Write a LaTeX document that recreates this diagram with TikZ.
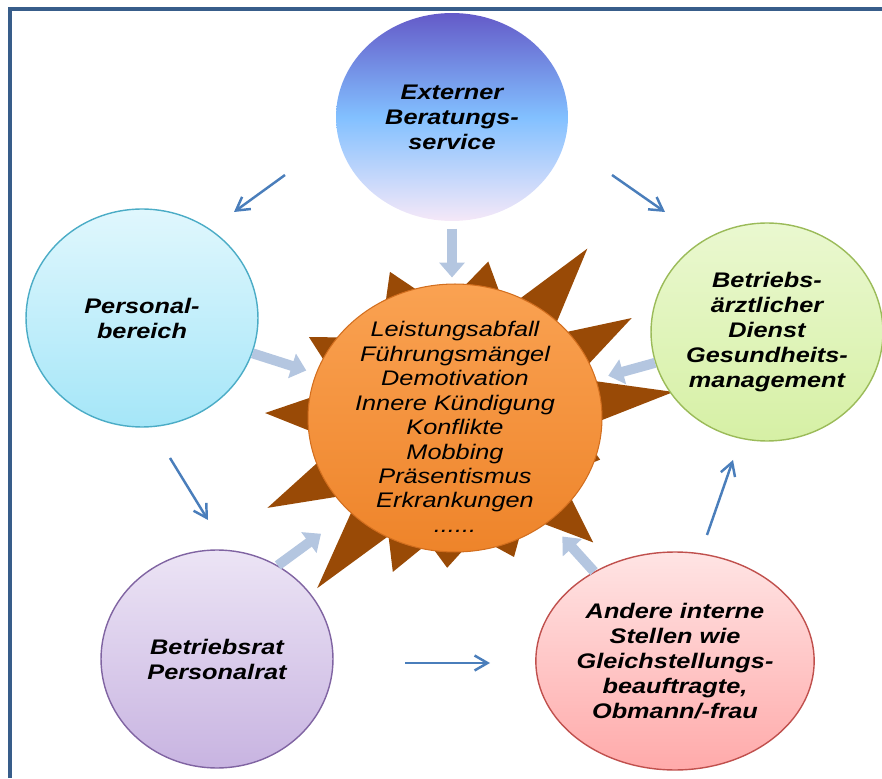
\documentclass[tikz,border=0pt]{standalone}
\usepackage{fontspec}
\setmainfont{Liberation Sans}
\newfontfamily\boxfont[FakeStretch=1.2]{Liberation Sans}
\usetikzlibrary{arrows.meta,shapes.geometric}

\definecolor{framecol}{RGB}{56,93,138}
\definecolor{thinblue}{RGB}{74,126,187}
\definecolor{blockblue}{RGB}{180,198,224}
\definecolor{raybrown}{RGB}{153,74,6}

\begin{document}
\begin{tikzpicture}[x=0.02cm, y=0.02cm,
	bubble/.style={ellipse, inner sep=0pt, align=center, line width=0.8pt,
		minimum width=4.64cm, minimum height=4.36cm,
		font=\boxfont\bfseries\itshape\fontsize{12}{14.2}\selectfont},
	thinarrow/.style={draw=thinblue, line width=1.4pt, -{Straight Barb[length=0.26cm, width=0.3cm]}},
	blockarrow/.style={draw=blockblue, line width=0.2cm, -{Triangle[length=0.3cm, width=0.5cm]}},
	ray/.style={fill=raybrown}]
	\useasboundingbox (0,0) rectangle (882,778);
	\begin{scope}[shift={(455,360)}]
		\foreach \a/\r in {6.8/220, 29.5/203, 52/215, 78/160, 114/160, 151/167, 178.5/190, 205.6/208, 231/219, 248/166, 267/150, 293/151, 318/186, 344/151}
			\fill[ray] (\a-13:120) -- (\a:\r) -- (\a+13:120) -- cycle;
	\end{scope}
	\node[ellipse, inner sep=0pt, minimum width=5.88cm, minimum height=5.36cm,
		top color={rgb,255:red,250;green,162;blue,82}, bottom color={rgb,255:red,238;green,132;blue,42},
		draw={rgb,255:red,210;green,110;blue,30}, line width=0.6pt] (sun) at (455,360) {};
	\node[align=center, font=\boxfont\itshape\fontsize{12}{13.9}\selectfont] (sunlist) at ([yshift=-0.18cm]sun.center)
		{Leistungsabfall\\Führungsmängel\\Demotivation\\Innere Kündigung\\Konflikte\\Mobbing\\Präsentismus\\Erkrankungen\\......};
	\node[bubble, minimum height=4.16cm, draw=none, top color={rgb,255:red,100;green,90;blue,200},
		bottom color={rgb,255:red,245;green,232;blue,248}, middle color={rgb,255:red,130;green,192;blue,255}] (ext) at (452,661) {Externer\\Beratungs-\\service};
	\node[bubble, draw={rgb,255:red,75;green,172;blue,198}, top color={rgb,255:red,224;green,247;blue,253},
		bottom color={rgb,255:red,165;green,230;blue,248}] (pers) at (142,460) {Personal-\\bereich};
	\node[bubble, draw={rgb,255:red,155;green,187;blue,89}, top color={rgb,255:red,234;green,248;blue,208},
		bottom color={rgb,255:red,214;green,240;blue,165}] (arzt) at (767,446) {Betriebs-\\ärztlicher\\Dienst\\Gesundheits-\\management};
	\node[bubble, draw={rgb,255:red,128;green,100;blue,162}, top color={rgb,255:red,236;green,228;blue,245},
		bottom color={rgb,255:red,200;green,180;blue,225}] (rat) at (217,119) {Betriebsrat\\Personalrat};
	\node[bubble, draw={rgb,255:red,192;green,80;blue,77}, top color={rgb,255:red,255;green,228;blue,228},
		bottom color={rgb,255:red,255;green,170;blue,170}] (andere) at (675,117) {Andere interne\\Stellen wie\\Gleichstellungs-\\beauftragte,\\Obmann/-frau};
	\draw[blockarrow, shorten <=0.14cm, shorten >=0.12cm] (ext.south) -- (ext.south |- sun.north);
	\draw[blockarrow, shorten >=0.2cm] (pers) -- (sun);
	\draw[blockarrow, shorten >=0.25cm] (arzt) -- (sun);
	\draw[blockarrow, shorten >=0.72cm] (rat.57) -- (sun.222);
	\draw[blockarrow, shorten >=0.4cm] (andere) -- (sun);
	\coordinate (extpers1) at (285,603);
	\coordinate (extpers2) at (234,566);
	\coordinate (extarzt1) at (612,603);
	\coordinate (extarzt2) at (665,566);
	\coordinate (persrat1) at (170,320);
	\coordinate (persrat2) at (208,258);
	\coordinate (ratandere1) at (405,115);
	\coordinate (ratandere2) at (490,115);
	\coordinate (anderearzt1) at (707,243);
	\coordinate (anderearzt2) at (733,318);
	\draw[thinarrow] (extpers1) -- (extpers2);
	\draw[thinarrow] (extarzt1) -- (extarzt2);
	\draw[thinarrow] (persrat1) -- (persrat2);
	\draw[thinarrow] (ratandere1) -- (ratandere2);
	\draw[thinarrow] (anderearzt1) -- (anderearzt2);
	\draw[framecol, line width=2pt] (10,0) -- (10,769) -- (882,769);
\end{tikzpicture}
\end{document}
